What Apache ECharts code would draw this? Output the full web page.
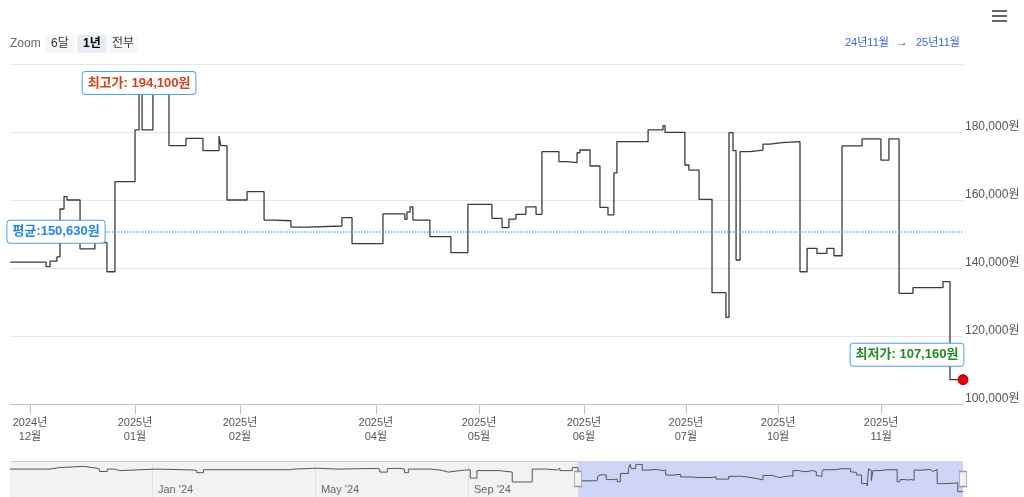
<!DOCTYPE html>
<html>
<head>
<meta charset="utf-8">
<script src="https://cdn.jsdelivr.net/npm/echarts@6/dist/echarts.min.js"></script>
<style>
  html, body { margin: 0; padding: 0; background: #fff; }
  #priceChart { width: 1024px; height: 497px; }
</style>
</head>
<body>
<div id="priceChart"></div>
<script>
// 가격 기록 (seq: 기록 순번 - 네비게이터 전체 0~1000, 메인은 최근 1년 596~1000)
var histSeq = [0, 42, 52, 77, 91, 94, 102, 110, 115, 154, 192, 196, 203, 294, 297, 322, 343, 385, 388, 396,
  409, 414, 418, 441, 451, 454, 460, 472, 479, 483, 490, 514, 527, 548, 563, 574, 577, 590];
var histPrice = [179100, 184000, 187800, 182000, 179100, 171400, 179100, 174300, 179100, 176300, 174300, 167600,
  177100, 179100, 182000, 179100, 181200, 179100, 169600, 181200, 179100, 167600, 179100, 176300, 174300, 169600,
  174300, 176300, 177100, 150400, 174300, 169600, 138000, 179100, 176300, 182000, 174300, 184000];

var mainSeq = [596, 611.3, 613, 615.9, 617.2, 618.9, 620.2, 625.7, 632, 637.1, 640.5, 649, 650.7, 652, 656.6,
  663.4, 670.6, 677.8, 684.6, 685.4, 688, 696.5, 703.7, 707.9, 715.1, 722.3, 736.7, 741, 754.1, 763.4, 764.3,
  765.6, 766.8, 774, 782.9, 790.1, 800.3, 804.6, 807.5, 810.5, 814.7, 819, 821.5, 828.7, 831.7, 836.4, 837.6,
  841.9, 846.1, 849.5, 852, 853.3, 866.5, 872.8, 873.7, 882.1, 883.8, 888.1, 893.6, 899.5, 900.8, 902.5, 903.8,
  905.5, 909.7, 915.2, 918.2, 923.3, 930.9, 933.9, 938.1, 942.3, 945.3, 948.7, 957.2, 965.2, 968.6, 972.9,
  978.8, 991.5, 994.5, 1000];
var mainPrice = [141700, 140400, 142000, 143300, 157350, 161000, 160000, 145600, 147450, 138900, 165400, 180600,
  194100, 180600, 194100, 176000, 178150, 174500, 178800, 176000, 160000, 162450, 154100, 153900, 152050, 152350,
  154800, 147150, 155900, 154300, 156450, 158000, 154100, 149200, 144500, 158700, 154600, 151850, 154400, 155800,
  158000, 155800, 174200, 171300, 171000, 173900, 174700, 170000, 157850, 155600, 168000, 177150, 180600, 181850,
  179900, 170300, 168800, 160200, 132750, 125500, 179800, 174500, 142350, 174200, 174700, 176450, 176850, 177150,
  138900, 145800, 144300, 145800, 143600, 175900, 177950, 171750, 177950, 132550, 134200, 136000, 107160, 107160];

var avgPrice = 150630;

var tickSeq = [604.5, 649, 693.5, 751.1, 794.8, 839.3, 882.5, 921.6, 965.3];
var tickLabels = ['2024년\n12월', '2025년\n01월', '2025년\n02월', '2025년\n04월', '2025년\n05월',
  '2025년\n06월', '2025년\n07월', '2025년\n10월', '2025년\n11월'];

var navTickSeq = [149, 320, 480.6, 648.5, 901.4];
var navTickLabels = ["Jan '24", "May '24", "Sep '24", "Jan '25", "Sep '25"];

var FONT = "'Liberation Sans', 'Noto Sans CJK KR', sans-serif";

var mainData = mainSeq.map(function (s, i) { return [s, mainPrice[i]]; });
var allData = histSeq.map(function (s, i) { return [s, histPrice[i]]; }).concat(mainData);

var maxPrice = Math.max.apply(null, mainPrice);
var minPrice = Math.min.apply(null, mainPrice);
var maxIdx = mainPrice.indexOf(maxPrice);
var viewStart = mainSeq[0];
var viewEnd = mainSeq[mainSeq.length - 1];

function boxLabel(text, color, offset) {
  return {
    show: true,
    position: 'inside',
    offset: offset,
    formatter: text,
    color: color,
    fontWeight: 'bold',
    fontSize: 13,
    backgroundColor: '#fff',
    borderColor: '#4aa0f0',
    borderWidth: 1,
    borderRadius: 3,
    padding: [5, 5, 4, 5]
  };
}

var myChart = echarts.init(document.getElementById('priceChart'));
myChart.setOption({
  animation: false,
  textStyle: { fontFamily: FONT },
  grid: [
    { left: 10, right: 61, top: 64, bottom: 93 },
    { left: 10, right: 61, top: 461, height: 40, show: true, backgroundColor: '#f2f2f2', borderWidth: 0 }
  ],
  xAxis: [
    {
      type: 'value',
      gridIndex: 0,
      min: viewStart,
      max: viewEnd,
      axisLine: { show: true, lineStyle: { color: '#c0c0c0' } },
      axisTick: { show: true, length: 10, customValues: tickSeq, lineStyle: { color: '#c0c0c0' } },
      axisLabel: {
        customValues: tickSeq,
        margin: 12,
        color: '#555',
        fontSize: 11,
        lineHeight: 14,
        formatter: function (v) {
          var i = tickSeq.indexOf(v);
          return i >= 0 ? tickLabels[i] : '';
        }
      },
      splitLine: { show: false }
    },
    {
      type: 'value',
      gridIndex: 1,
      min: 0,
      max: 1000,
      axisLine: { show: false },
      axisTick: { show: false, customValues: navTickSeq },
      axisLabel: {
        customValues: navTickSeq,
        inside: true,
        margin: 2,
        align: 'left',
        padding: [0, 0, 0, 6],
        color: '#666',
        fontSize: 11,
        formatter: function (v) {
          var i = navTickSeq.indexOf(v);
          return i >= 0 ? navTickLabels[i] : '';
        }
      },
      splitLine: { show: true, lineStyle: { color: '#e2e2e2' } }
    }
  ],
  yAxis: [
    {
      type: 'value',
      gridIndex: 0,
      position: 'right',
      min: 100000,
      max: 200000,
      interval: 20000,
      axisLine: { show: false },
      axisTick: { show: false },
      axisLabel: {
        showMaxLabel: false,
        margin: 2,
        verticalAlign: 'bottom',
        lineHeight: 10,
        color: '#555',
        fontSize: 12,
        formatter: function (v) { return v.toLocaleString('en-US') + '원'; }
      },
      splitLine: { lineStyle: { color: '#e6e6e6' } }
    },
    {
      type: 'value',
      gridIndex: 1,
      min: 90000,
      max: 205000,
      interval: 115000,
      axisLine: { show: false },
      axisTick: { show: false },
      axisLabel: { show: false },
      splitLine: { show: true, lineStyle: { color: '#cccccc' } }
    }
  ],
  series: [
    {
      name: '가격',
      type: 'line',
      xAxisIndex: 0,
      yAxisIndex: 0,
      step: 'end',
      showSymbol: false,
      lineStyle: { color: '#3a3a3a', width: 1.3 },
      data: mainData,
      markLine: {
        silent: true,
        symbol: 'none',
        label: { show: false },
        lineStyle: { color: '#6aaef0', type: 'dotted', width: 1.5 },
        data: [{ yAxis: avgPrice }]
      },
      markPoint: {
        silent: true,
        data: [
          {
            coord: [mainSeq[maxIdx], maxPrice],
            symbol: 'circle',
            symbolSize: 1,
            itemStyle: { color: 'rgba(0,0,0,0)' },
            label: boxLabel('최고가: ' + maxPrice.toLocaleString('en-US') + '원', '#d2401e', [0, -1])
          },
          {
            coord: [viewEnd, minPrice],
            symbol: 'circle',
            symbolSize: 10,
            itemStyle: { color: '#e8000b', borderColor: '#a00000', borderWidth: 1 },
            label: boxLabel('최저가: ' + minPrice.toLocaleString('en-US') + '원', '#1f8a1f', [-56, -25])
          },
          {
            coord: [viewStart, avgPrice],
            symbol: 'circle',
            symbolSize: 1,
            itemStyle: { color: 'rgba(0,0,0,0)' },
            label: boxLabel('평균:' + avgPrice.toLocaleString('en-US') + '원', '#2484e6', [46, 0])
          }
        ]
      }
    },
    {
      name: '네비게이터',
      type: 'line',
      xAxisIndex: 1,
      yAxisIndex: 1,
      step: 'end',
      showSymbol: false,
      lineStyle: { color: '#555', width: 1 },
      data: allData,
      markArea: {
        silent: true,
        itemStyle: { color: '#cfd5f7' },
        data: [[{ xAxis: viewStart }, { xAxis: viewEnd }]]
      },
      markPoint: {
        silent: true,
        symbol: 'rect',
        symbolSize: [7, 15],
        itemStyle: { color: '#f2f2f2', borderColor: '#999', borderWidth: 1 },
        label: { show: false },
        data: [
          { coord: [viewStart, 147500] },
          { coord: [viewEnd, 147500] }
        ]
      }
    }
  ],
  graphic: [
    { type: 'text', left: 10, top: 38, style: { text: 'Zoom', fill: '#666', fontSize: 12, fontFamily: FONT } },
    { type: 'text', left: 45, top: 35, style: { text: '6달', fill: '#333', fontSize: 12, fontFamily: FONT,
      backgroundColor: '#f7f7f7', padding: [3, 6, 3, 6], borderRadius: 2 } },
    { type: 'text', left: 77, top: 35, style: { text: '1년', fill: '#000', fontSize: 12, fontWeight: 'bold', fontFamily: FONT,
      backgroundColor: '#e6ebf5', padding: [3, 6, 3, 6], borderRadius: 2 } },
    { type: 'text', left: 108, top: 35, style: { text: '전부', fill: '#333', fontSize: 12, fontFamily: FONT,
      backgroundColor: '#f7f7f7', padding: [3, 4, 3, 4], borderRadius: 2 } },
    { type: 'text', left: 845, top: 37, style: { text: '24년11월', fill: '#3d63dd', fontSize: 11, fontFamily: FONT } },
    { type: 'text', left: 896, top: 37, style: { text: '→', fill: '#555', fontSize: 12, fontFamily: FONT } },
    { type: 'text', left: 916, top: 37, style: { text: '25년11월', fill: '#3d63dd', fontSize: 11, fontFamily: FONT } },
    { type: 'rect', left: 992, top: 10, shape: { width: 15, height: 2 }, style: { fill: '#666' } },
    { type: 'rect', left: 992, top: 15, shape: { width: 15, height: 2 }, style: { fill: '#666' } },
    { type: 'rect', left: 992, top: 20, shape: { width: 15, height: 2 }, style: { fill: '#666' } }
  ]
});
</script>
</body>
</html>
